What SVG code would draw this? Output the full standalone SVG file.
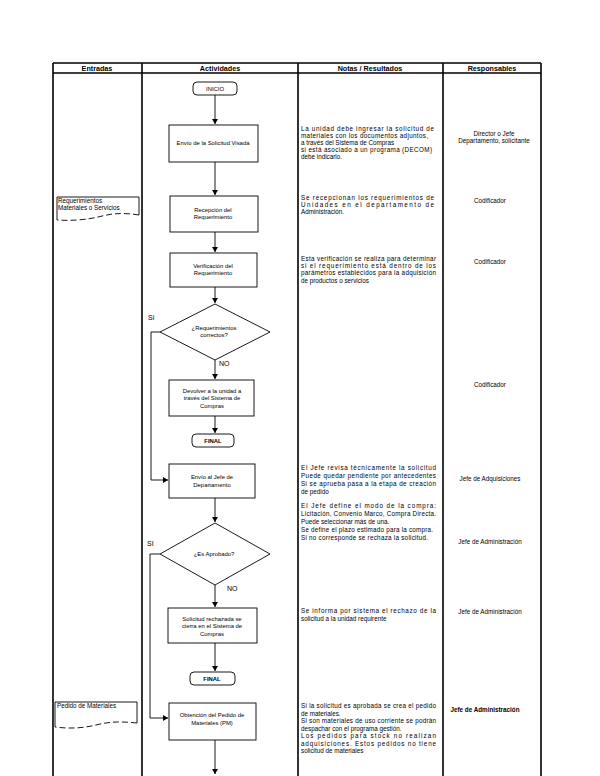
<svg xmlns="http://www.w3.org/2000/svg" width="600" height="776" viewBox="0 0 600 776">
<style>
text{font-family:"Liberation Sans",Arial,sans-serif;fill:#000}
.hd{font-size:7.2px;font-weight:bold;text-anchor:middle}
.nt{font-size:5.9px;text-anchor:middle}
.no{font-size:6.3px}
.rs{font-size:6.3px;text-anchor:middle}
.en{font-size:6.3px}
.lb{font-size:7px}
.box{fill:#fff;stroke:#000;stroke-width:0.9}
.grid{stroke:#000;fill:none}
.cn{stroke:#000;stroke-width:0.9;fill:none}
</style>
<defs>
<marker id="ah" markerWidth="6" markerHeight="6" refX="5" refY="3" orient="auto" markerUnits="userSpaceOnUse">
<path d="M0,0 L5,3 L0,6 Z" fill="#000"/>
</marker>
</defs>
<rect width="600" height="776" fill="#fff"/>
<g id="table">
<path class="grid" stroke-width="1.4" d="M53,63 H541 M53,73 H541"/>
<path class="grid" stroke-width="1.6" d="M53,63 V776 M142,63 V776 M298,63 V776 M443,63 V776 M541,63 V776"/>
<text class="hd" x="97" y="71">Entradas</text>
<text class="hd" x="220" y="71">Actividades</text>
<text class="hd" x="370" y="71">Notas / Resultados</text>
<text class="hd" x="492" y="71">Responsables</text>
</g>
<g id="connectors">
<path class="cn" d="M215,95 V124" marker-end="url(#ah)"/>
<path class="cn" d="M215,162 V195" marker-end="url(#ah)"/>
<path class="cn" d="M215,232 V252" marker-end="url(#ah)"/>
<path class="cn" d="M215,287 V303" marker-end="url(#ah)"/>
<path class="cn" d="M215,360 V379" marker-end="url(#ah)"/>
<path class="cn" d="M160,332 H151 V480 H168" marker-end="url(#ah)"/>
<path class="cn" d="M215,416 V433" marker-end="url(#ah)"/>
<path class="cn" d="M215,498 V522" marker-end="url(#ah)"/>
<path class="cn" d="M215,585 V607" marker-end="url(#ah)"/>
<path class="cn" d="M160,554 H150 V718 H168" marker-end="url(#ah)"/>
<path class="cn" d="M215,643 V671" marker-end="url(#ah)"/>
<path class="cn" d="M215,740 V774" marker-end="url(#ah)"/>
<text class="lb" x="148" y="320">Si</text>
<text class="lb" x="219" y="366">NO</text>
<text class="lb" x="147" y="546">SI</text>
<text class="lb" x="227" y="591">NO</text>
</g>
<g id="n-inicio">
<rect class="box" x="193" y="82" width="44" height="13" rx="4"/>
<text class="nt" x="215" y="91">INICIO</text>
</g>
<g id="n-envio">
<rect class="box" x="169" y="125" width="89" height="37"/>
<text class="nt" x="213" y="145">Envío de la Solicitud Visada</text>
</g>
<g id="n-recepcion">
<rect class="box" x="170" y="196" width="88" height="36"/>
<text class="nt" x="213" y="212">Recepción del</text>
<text class="nt" x="213" y="219">Requerimiento</text>
</g>
<g id="n-verificacion">
<rect class="box" x="170" y="253" width="87" height="34"/>
<text class="nt" x="213" y="268">Verificación del</text>
<text class="nt" x="213" y="275">Requerimiento</text>
</g>
<g id="n-dec1">
<polygon class="box" points="215,304 270,332 215,360 160,332"/>
<text class="nt" x="214" y="330">¿Requerimientos</text>
<text class="nt" x="214" y="337">correctos?</text>
</g>
<g id="n-devolver">
<rect class="box" x="169" y="380" width="85" height="36"/>
<text class="nt" x="212" y="393">Devolver a la unidad a</text>
<text class="nt" x="212" y="400">través del Sistema de</text>
<text class="nt" x="212" y="408">Compras</text>
</g>
<g id="n-final1">
<rect class="box" x="192" y="434" width="42" height="13" rx="4"/>
<text class="nt" x="213" y="443" font-weight="bold">FINAL</text>
</g>
<g id="n-jefe">
<rect class="box" x="169" y="464" width="86" height="34"/>
<text class="nt" x="212" y="479">Envío al Jefe de</text>
<text class="nt" x="212" y="487">Departamento</text>
</g>
<g id="n-dec2">
<polygon class="box" points="215,523 270,554 215,585 160,554"/>
<text class="nt" x="214" y="556">¿Es Aprobado?</text>
</g>
<g id="n-rechazo">
<rect class="box" x="168" y="608" width="89" height="35"/>
<text class="nt" x="212" y="621">Solicitud rechazada se</text>
<text class="nt" x="212" y="628">cierra en el Sistema de</text>
<text class="nt" x="212" y="636">Compras</text>
</g>
<g id="n-final2">
<rect class="box" x="190" y="672" width="45" height="13" rx="4"/>
<text class="nt" x="212" y="681" font-weight="bold">FINAL</text>
</g>
<g id="n-obtencion">
<rect class="box" x="169" y="703" width="87" height="37"/>
<text class="nt" x="212" y="717">Obtención del Pedido de</text>
<text class="nt" x="212" y="725">Materiales (PM)</text>
</g>
<g id="in-requerimientos">
<path class="box" d="M57,220 V197 H139 V215"/>
<path class="cn" stroke-dasharray="6,3" d="M139,215 C120,212 110,214 98,217 C85,220 70,221 57,220"/>
<text class="en" x="58" y="203">Requerimientos</text>
<text class="en" x="58" y="210">Materiales o Servicios</text>
</g>
<g id="in-pedido">
<path class="box" d="M55,727 V702 H137 V723"/>
<path class="cn" stroke-dasharray="6,3" d="M137,723 C118,721 108,722 96,725 C84,728 70,729 55,727"/>
<text class="en" x="57" y="708">Pedido de Materiales</text>
</g>
<g id="notes" class="no">
<text x="301" y="131" textLength="133" lengthAdjust="spacing">La unidad debe ingresar la solicitud de</text>
<text x="301" y="138" textLength="127" lengthAdjust="spacing">materiales con los documentos adjuntos,</text>
<text x="301" y="145">a través del Sistema de Compras</text>
<text x="301" y="152" textLength="131" lengthAdjust="spacing">si está asociado a un programa (DECOM)</text>
<text x="301" y="159">debe indicarlo.</text>
<text x="301" y="200" textLength="133" lengthAdjust="spacing">Se recepcionan los requerimientos de</text>
<text x="301" y="207" textLength="133" lengthAdjust="spacing">Unidades en el departamento de</text>
<text x="301" y="214">Administración.</text>
<text x="301" y="261" textLength="135" lengthAdjust="spacing">Esta verificación se realiza para determinar</text>
<text x="301" y="268" textLength="135" lengthAdjust="spacing">si el requerimiento está dentro de los</text>
<text x="301" y="275" textLength="135" lengthAdjust="spacing">parámetros establecidos para la adquisición</text>
<text x="301" y="283">de productos o servicios</text>
<text x="301" y="470" textLength="135" lengthAdjust="spacing">El Jefe revisa técnicamente la solicitud</text>
<text x="301" y="478" textLength="135" lengthAdjust="spacing">Puede quedar pendiente por antecedentes</text>
<text x="301" y="486" textLength="135" lengthAdjust="spacing">Si se aprueba pasa a la etapa de creación</text>
<text x="301" y="494">de pedido</text>
<text x="301" y="508" textLength="135" lengthAdjust="spacing">El Jefe define el modo de la compra:</text>
<text x="301" y="516" textLength="135" lengthAdjust="spacing">Licitación, Convenio Marco, Compra Directa.</text>
<text x="301" y="524">Puede seleccionar más de una.</text>
<text x="301" y="532" textLength="132" lengthAdjust="spacing">Se define el plazo estimado para la compra.</text>
<text x="301" y="540" textLength="127" lengthAdjust="spacing">Si no corresponde se rechaza la solicitud.</text>
<text x="301" y="613" textLength="135" lengthAdjust="spacing">Se informa por sistema el rechazo de la</text>
<text x="301" y="621">solicitud a la unidad requirente</text>
<text x="301" y="708" textLength="135" lengthAdjust="spacing">Si la solicitud es aprobada se crea el pedido</text>
<text x="301" y="716">de materiales.</text>
<text x="301" y="723" textLength="135" lengthAdjust="spacing">Si son materiales de uso corriente se podrán</text>
<text x="301" y="731">despachar con el programa gestión.</text>
<text x="301" y="738" textLength="135" lengthAdjust="spacing">Los pedidos para stock no realizan</text>
<text x="301" y="746" textLength="135" lengthAdjust="spacing">adquisiciones. Estos pedidos no tiene</text>
<text x="301" y="753">solicitud de materiales</text>
</g>
<g id="responsables" class="rs">
<text x="494" y="136">Director o Jefe</text>
<text x="494" y="143">Departamento, solicitante</text>
<text x="490" y="203">Codificador</text>
<text x="490" y="264">Codificador</text>
<text x="490" y="387">Codificador</text>
<text x="490" y="481">Jefe de Adquisiciones</text>
<text x="490" y="544">Jefe de Administración</text>
<text x="490" y="614">Jefe de Administración</text>
<text x="485" y="712" font-weight="bold">Jefe de Administración</text>
</g>
</svg>
